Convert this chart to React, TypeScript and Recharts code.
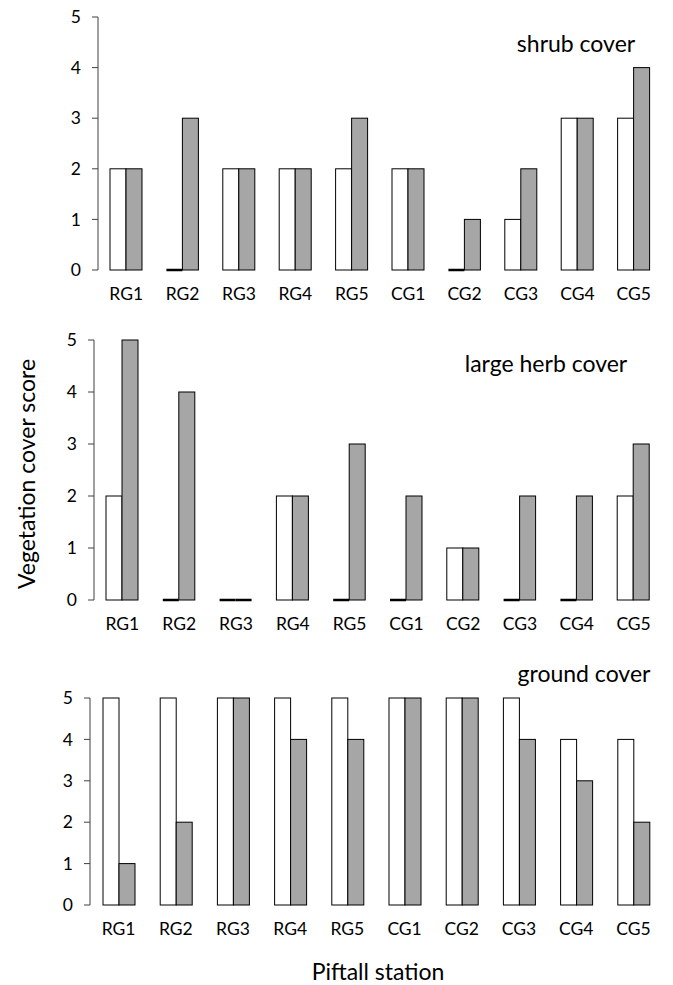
import { BarChart, Bar, XAxis, YAxis } from 'recharts';

const stations = ['RG1', 'RG2', 'RG3', 'RG4', 'RG5', 'CG1', 'CG2', 'CG3', 'CG4', 'CG5'];

const shrubWhite = [2, 0, 2, 2, 2, 2, 0, 1, 3, 3];
const shrubGrey = [2, 3, 2, 2, 3, 2, 1, 2, 3, 4];

const herbWhite = [2, 0, 0, 2, 0, 0, 1, 0, 0, 2];
const herbGrey = [5, 4, 0, 2, 3, 2, 1, 2, 2, 3];

const groundWhite = [5, 5, 5, 5, 5, 5, 5, 5, 4, 4];
const groundGrey = [1, 2, 5, 4, 4, 5, 5, 4, 3, 2];

const scoreTicks = [0, 1, 2, 3, 4, 5];

const FONT = 'Lato, "Open Sans", sans-serif';
const GREY = '#a6a6a6';

function toRows(a: number[], b: number[]) {
  return stations.map((name, i) => ({ name, a: a[i], b: b[i] }));
}

// zero-height bars show up as a thick flat line on the baseline
const BarShape = (props: any) => {
  const { x, y, width, height, fill } = props;
  if (!height) {
    return <line x1={x} x2={x + width} y1={y} y2={y} stroke="#000" strokeWidth={2.5} />;
  }
  return <rect x={x} y={y} width={width} height={height} fill={fill} stroke="#000" strokeWidth={1} />;
};

interface PanelProps {
  top: number;
  height: number;
  marginTop: number;
  axisWidth: number;
  white: number[];
  grey: number[];
}

function Panel({ top, height, marginTop, axisWidth, white, grey }: PanelProps) {
  return (
    <div style={{ position: 'absolute', left: 0, top }}>
      <BarChart
        width={673}
        height={height}
        data={toRows(white, grey)}
        margin={{ top: marginTop, right: 11, bottom: 0, left: 0 }}
        barGap={0}
      >
        <XAxis
          dataKey="name"
          height={45}
          axisLine={false}
          tickLine={false}
          tickSize={0}
          tickMargin={18}
          interval={0}
          tick={{ fontSize: 17.5, fill: '#000', fontFamily: FONT }}
        />
        <YAxis
          width={axisWidth}
          domain={[0, 5]}
          ticks={scoreTicks}
          interval={0}
          stroke="#404040"
          tickSize={6}
          tickMargin={11}
          tick={{ fontSize: 17.5, fill: '#000', fontFamily: FONT }}
        />
        <Bar dataKey="a" fill="#ffffff" barSize={16} shape={BarShape} isAnimationActive={false} />
        <Bar dataKey="b" fill={GREY} barSize={16} shape={BarShape} isAnimationActive={false} />
      </BarChart>
    </div>
  );
}

export default function App() {
  return (
    <div style={{ position: 'absolute', left: 0, top: 0, width: 673, height: 985, background: '#fff' }}>
      <Panel top={0} height={315} marginTop={17} axisWidth={98} white={shrubWhite} grey={shrubGrey} />
      <Panel top={300} height={345} marginTop={40} axisWidth={94} white={herbWhite} grey={herbGrey} />
      <Panel top={620} height={330} marginTop={78} axisWidth={90} white={groundWhite} grey={groundGrey} />
      <svg
        width={673}
        height={985}
        style={{ position: 'absolute', left: 0, top: 0, pointerEvents: 'none' }}
        fontFamily={FONT}
      >
        <text x={576} y={43} fontSize={23} textAnchor="middle" dominantBaseline="central">
          shrub cover
        </text>
        <text x={546} y={363} fontSize={23} textAnchor="middle" dominantBaseline="central">
          large herb cover
        </text>
        <text x={584} y={673} fontSize={23} textAnchor="middle" dominantBaseline="central">
          ground cover
        </text>
        <text
          x={26}
          y={474}
          fontSize={23}
          textAnchor="middle"
          dominantBaseline="central"
          transform="rotate(-90 26 474)"
        >
          Vegetation cover score
        </text>
        <text x={378} y={971} fontSize={23} textAnchor="middle" dominantBaseline="central">
          Piftall station
        </text>
      </svg>
    </div>
  );
}
